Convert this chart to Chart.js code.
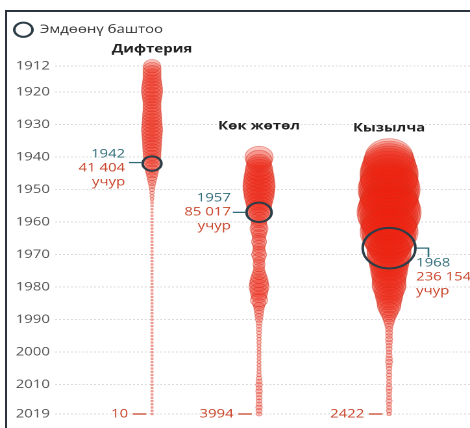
<!DOCTYPE html>
<html><head><meta charset="utf-8">
<script src="https://cdn.jsdelivr.net/npm/chart.js@4.4.1/dist/chart.umd.min.js"></script>
<style>
html,body{margin:0;padding:0;background:#fff;overflow:hidden;width:470px;height:428px;}
#wrap{position:absolute;left:0;top:0;width:362px;height:428px;transform:scaleX(1.2983);transform-origin:0 0;}
#frame{position:absolute;left:5px;top:10px;width:480px;height:430px;border-top:2.5px solid #2b333d;border-left:2px solid #2b333d;pointer-events:none;}
</style></head><body>
<div id="wrap"><canvas id="c"></canvas></div>
<div id="frame"></div>
<script>
// ---------- data ----------
const diseases = ['Дифтерия', 'Көк жөтөл', 'Кызылча'];
const startYears = [1912, 1940, 1940];
const lastYear = 2019;

const diphtheriaCases = [
  40500, 45400, 45000, 44800, 46000, 50500, 56000, 61700, 62000, 56500,
  50000, 45300, 44500, 45000, 46200, 50000, 51000, 55000, 56500, 60800,
  62500, 57000, 55500, 51500, 50000, 49000, 46000, 44000, 42000, 40000,
  41404, 32000, 25500, 20000, 15500, 11500, 8000, 5600, 3900, 3000,
  2200, 1700, 1250, 950, 700, 520, 400, 320, 240, 200,
  170, 140, 120, 95, 80, 64, 52, 40, 33, 28,
  22, 18, 15, 12, 10, 9, 7, 6, 5, 4,
  3, 3, 2, 2, 1, 2, 1, 3, 6, 12,
  25, 48, 120, 160, 90, 40, 22, 15, 11, 8,
  6, 4, 3, 2, 1, 1, 2, 1, 1, 2,
  3, 2, 4, 6, 5, 8, 12, 10
];
const pertussisCases = [
  110000, 95000, 80000, 94000, 108000, 112000, 125000, 128000, 142000, 145000,
  140000, 128000, 124000, 110000, 96000, 88000, 82000, 85017, 56000, 40000,
  31000, 36000, 45000, 35500, 27500, 24000, 31500, 23500, 20000, 23800,
  31000, 23000, 17000, 20500, 16800, 20000, 27000, 36000, 45500, 50000,
  56000, 45000, 40000, 31500, 40500, 23500, 17000, 14000, 11300, 9000,
  6900, 5000, 4200, 3500, 3400, 2800, 2600, 2500, 2250, 2200,
  2300, 2200, 2100, 2250, 2400, 2200, 2450, 2850, 4200, 5000,
  5900, 5100, 5800, 5000, 4900, 4300, 5000, 5900, 5200, 3994
];
const measlesCases = [
  322000, 350000, 378000, 408000, 439000, 471000, 468000, 440000, 472000, 504000,
  538000, 502000, 470000, 438000, 470000, 505000, 536000, 573000, 540000, 471000,
  439000, 408000, 440000, 470000, 408000, 378000, 322000, 283000, 236154, 271000,
  270000, 247000, 224000, 213000, 181000, 192000, 171000, 162000, 152000, 161000,
  153000, 126000, 110000, 102000, 87500, 80500, 74000, 56000, 40500, 27500,
  20000, 14000, 9000, 6900, 6800, 5900, 6900, 6000, 5000, 5100,
  4200, 5000, 5900, 6800, 5000, 4200, 3500, 4300, 3500, 3400,
  3500, 5000, 4200, 3500, 3600, 5000, 3500, 3400, 4300, 2422
];
const vaccineYears = [1942, 1957, 1968];
const vaccineCases = [41404, 85017, 236154];
const lastCases = [10, 3994, 2422];
const yTicks = [1912, 1920, 1930, 1940, 1950, 1960, 1970, 1980, 1990, 2000, 2010, 2019];
const legendLabel = 'Эмдөөнү баштоо';
const caseWord = 'учур';

// ---------- layout / style ----------
const colPos = [0.2337, 0.4916, 0.805];
const K = 0.03255, MIN_R = 0.9;
const ringPad = [0.6, 0.2, 4.5];
const titleLift = [17, 31, 29];
const RED = '#c9452b', TEAL = '#2f6b7a', RING = '#2c3d47';
const FONT = "'Open Sans', 'Liberation Sans', sans-serif";
const PX_PER_YEAR = 348 / 107;

const series = [diphtheriaCases, pertussisCases, measlesCases];
const rOf = v => Math.max(MIN_R, K * Math.sqrt(v));
const fmt = n => n >= 10000 ? String(n).replace(/\B(?=(\d{3})+(?!\d))/g, ' ') : String(n);

const ringDataset = {
  label: legendLabel,
  data: vaccineYears.map((yr, i) => ({ x: colPos[i], y: yr, r: rOf(vaccineCases[i]) + ringPad[i] })),
  backgroundColor: 'rgba(0,0,0,0)', borderColor: RING, borderWidth: 2, clip: false
};
const diseaseDatasets = series.map((arr, i) => ({
  label: diseases[i],
  data: arr.map((v, j) => ({ x: colPos[i], y: startYears[i] + j, r: rOf(v) })),
  backgroundColor: 'rgba(236,32,16,0.28)', borderColor: 'rgba(214,52,32,0.5)', borderWidth: 0.7, clip: false
}));

const annot = {
  id: 'annot',
  afterDatasetsDraw(chart) {
    const { ctx, scales: { x, y } } = chart;
    ctx.save();
    ctx.textBaseline = 'middle';
    // column titles
    ctx.font = `bold 11.5px ${FONT}`; ctx.fillStyle = '#222'; ctx.textAlign = 'center';
    diseases.forEach((d, i) => ctx.fillText(d, x.getPixelForValue(colPos[i]), y.getPixelForValue(startYears[i]) - titleLift[i]));
    ctx.font = `11.5px ${FONT}`;
    ctx.lineWidth = 1.3;
    // vaccine annotations
    vaccineYears.forEach((yr, i) => {
      const cx = x.getPixelForValue(colPos[i]), cy = y.getPixelForValue(yr);
      const R = rOf(vaccineCases[i]) + ringPad[i];
      ctx.strokeStyle = TEAL;
      ctx.beginPath();
      let tx, ty, align;
      if (i < 2) {
        const ly = i === 0 ? cy - 1 : cy;
        ctx.moveTo(cx - R - 1, ly); ctx.lineTo(cx - R - 10.5, ly);
        tx = cx - R - (i === 0 ? 13.5 : 12); ty = i === 0 ? cy - 9.5 : cy - 14; align = 'right';
      } else {
        ctx.moveTo(cx + R + 1, cy); ctx.lineTo(cx + R + 10, cy); ctx.lineTo(cx + R + 10, cy + 9);
        tx = cx + R + 0.5; ty = cy + 15; align = 'left';
      }
      ctx.stroke();
      ctx.textAlign = align;
      ctx.fillStyle = TEAL; ctx.fillText(String(yr), tx, ty);
      ctx.fillStyle = RED; ctx.fillText(fmt(vaccineCases[i]), tx, ty + 14);
      ctx.fillText(caseWord, tx, ty + 28);
    });
    // last-year values
    const yb = y.getPixelForValue(lastYear);
    lastCases.forEach((v, i) => {
      const cx = x.getPixelForValue(colPos[i]);
      const e = cx - rOf(v) - 3.5;
      ctx.strokeStyle = RED;
      ctx.beginPath(); ctx.moveTo(e, yb); ctx.lineTo(e - 10.5, yb); ctx.stroke();
      ctx.fillStyle = RED; ctx.textAlign = 'right';
      ctx.fillText(fmt(v), e - 14, yb);
    });
    ctx.restore();
  }
};

new Chart(document.getElementById('c'), {
  type: 'bubble',
  data: { datasets: [ringDataset, ...diseaseDatasets] },
  options: {
    responsive: true, maintainAspectRatio: false, animation: false, events: [],
    devicePixelRatio: 2,
    layout: { autoPadding: false, padding: { left: 3, top: 16, right: 0, bottom: 14 } },
    plugins: {
      tooltip: { enabled: false },
      legend: {
        display: true, position: 'top', align: 'start',
        labels: {
          filter: item => item.text === legendLabel,
          usePointStyle: true, pointStyle: 'circle', boxHeight: 10, pointStyleWidth: 14,
          color: '#333', font: { family: FONT, size: 11.5 }, padding: 8
        }
      }
    },
    scales: {
      x: { type: 'linear', min: 0, max: 1, display: false },
      y: {
        type: 'linear', reverse: true, min: 1900, max: lastYear,
        afterBuildTicks: s => {
          s.max = lastYear;
          s.min = lastYear - s.height / PX_PER_YEAR;
          s.ticks = yTicks.map(v => ({ value: v }));
        },
        afterFit: s => { s.width = 39.4; },
        ticks: { callback: v => String(v), color: '#555', font: { family: FONT, size: 11.5 }, padding: 4 },
        grid: { color: '#dadada', lineWidth: 1, drawTicks: false },
        border: { display: false, dash: [1.5, 1.5] }
      }
    }
  },
  plugins: [annot]
});
</script></body></html>
